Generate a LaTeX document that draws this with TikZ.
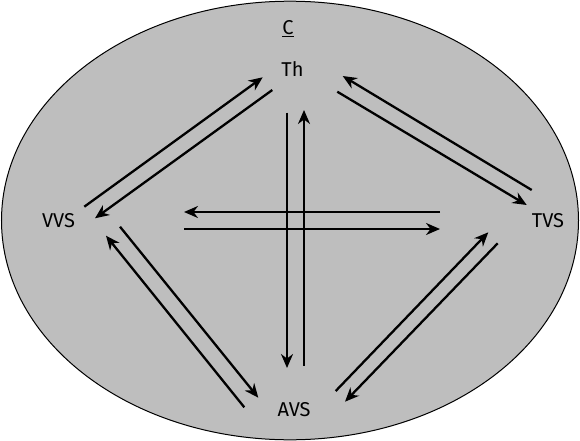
\documentclass[tikz,border=0pt]{standalone}
\usepackage{fontspec}
\setmainfont{Fira Sans}
\usetikzlibrary{arrows.meta}
\definecolor{bg}{RGB}{190,190,190}
\tikzset{
  lbl/.style={font=\fontsize{20}{23}\selectfont, inner sep=0pt, text=black},
  arr/.style={line width=2.3pt, -{Stealth[length=14pt,width=12pt]}}
}
\begin{document}
\begin{tikzpicture}[x=1pt,y=-1pt]
\useasboundingbox (0,0) rectangle (580,441);
\draw[fill=bg, line width=1pt] (290,220.5) ellipse [x radius=288.5, y radius=219.3];
\node[lbl] (c) at (288,29) {\underline{C}};
\node[lbl] (th) at (292.5,69) {Th};
\node[lbl] (vvs) at (58.5,220.5) {VVS};
\node[lbl] (tvs) at (548,221) {TVS};
\node[lbl] (avs) at (294,409.5) {AVS};
% Th - VVS
\coordinate (a1) at (84.3,206.7); \coordinate (a2) at (262.7,77.3);
\coordinate (b1) at (272.3,90); \coordinate (b2) at (95,218.3);
% Th - TVS
\coordinate (c1) at (531.7,190); \coordinate (c2) at (342.7,76);
\coordinate (d1) at (337.3,91.7); \coordinate (d2) at (526.7,205);
% VVS - AVS
\coordinate (e1) at (244.3,407.3); \coordinate (e2) at (106,235.7);
\coordinate (f1) at (120,226.7); \coordinate (f2) at (258.3,397.7);
% TVS - AVS
\coordinate (g1) at (335.7,391); \coordinate (g2) at (488.3,232.3);
\coordinate (h1) at (497.7,243.3); \coordinate (h2) at (345,401.7);
% vertical
\coordinate (i1) at (287,112.7); \coordinate (i2) at (287,368);
\coordinate (j1) at (304,365.7); \coordinate (j2) at (304,110);
% horizontal
\coordinate (k1) at (440,212); \coordinate (k2) at (184,212);
\coordinate (l1) at (184,229); \coordinate (l2) at (440,229);
\foreach \s/\t in {a1/a2,b1/b2,c1/c2,d1/d2,e1/e2,f1/f2,g1/g2,h1/h2,i1/i2,j1/j2,k1/k2,l1/l2}
  \draw[arr] (\s) -- (\t);
\end{tikzpicture}
\end{document}
